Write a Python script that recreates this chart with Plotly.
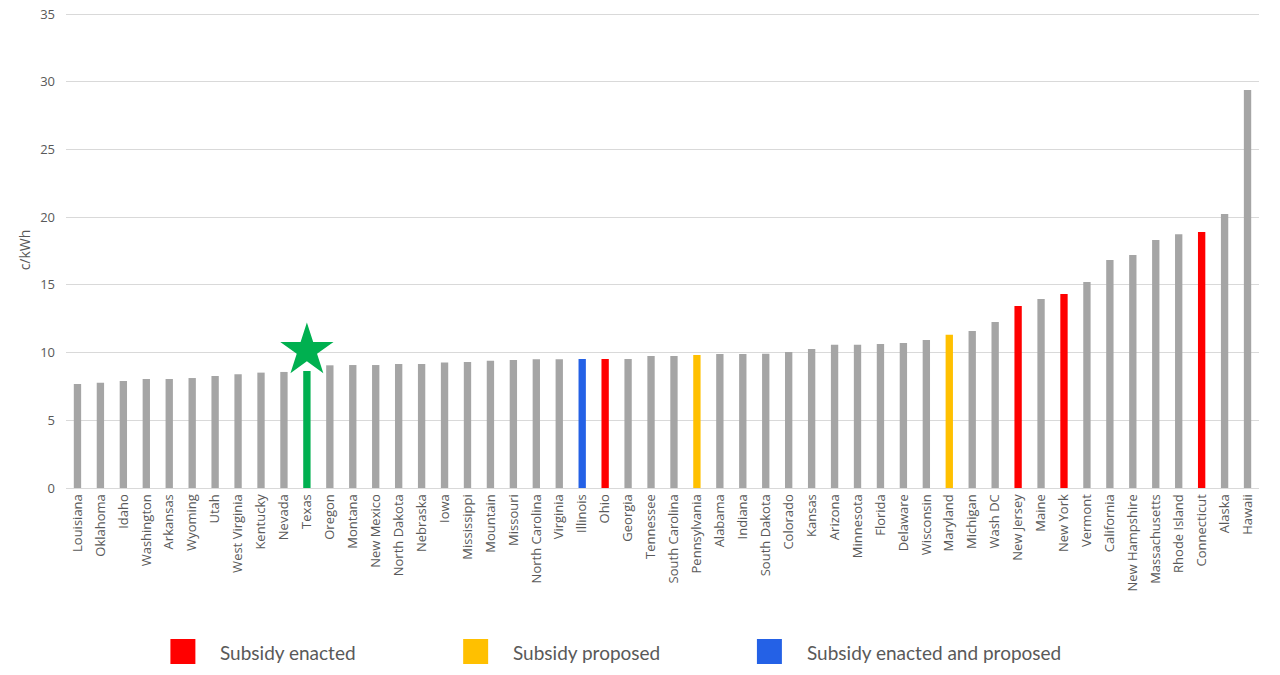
import plotly.graph_objects as go

states = ['Louisiana', 'Oklahoma', 'Idaho', 'Washington', 'Arkansas', 'Wyoming', 'Utah',
          'West Virginia', 'Kentucky', 'Nevada', 'Texas', 'Oregon', 'Montana', 'New Mexico',
          'North Dakota', 'Nebraska', 'Iowa', 'Mississippi', 'Mountain', 'Missouri',
          'North Carolina', 'Virginia', 'Illinois', 'Ohio', 'Georgia', 'Tennessee',
          'South Carolina', 'Pennsylvania', 'Alabama', 'Indiana', 'South Dakota', 'Colorado',
          'Kansas', 'Arizona', 'Minnesota', 'Florida', 'Delaware', 'Wisconsin', 'Maryland',
          'Michigan', 'Wash DC', 'New Jersey', 'Maine', 'New York', 'Vermont', 'California',
          'New Hampshire', 'Massachusetts', 'Rhode Island', 'Connecticut', 'Alaska', 'Hawaii']
price_ckwh = [7.68, 7.78, 7.90, 8.05, 8.05, 8.12, 8.27, 8.40, 8.52, 8.57, 8.64, 9.06, 9.08, 9.08,
              9.15, 9.15, 9.27, 9.30, 9.40, 9.45, 9.50, 9.50, 9.53, 9.53, 9.53, 9.75, 9.75, 9.82,
              9.90, 9.90, 9.92, 10.04, 10.27, 10.58, 10.58, 10.63, 10.70, 10.93, 11.32, 11.59,
              12.26, 13.44, 13.96, 14.33, 15.21, 16.84, 17.20, 18.31, 18.73, 18.90, 20.23, 29.39]

subsidy_enacted = ['Ohio', 'New Jersey', 'New York', 'Connecticut']
subsidy_proposed = ['Pennsylvania', 'Maryland']
subsidy_both = ['Illinois']
highlight = 'Texas'
star_level = 10.15

GREY = '#A5A5A5'
RED = '#FF0000'
YELLOW = '#FFC000'
BLUE = '#2461E6'
GREEN = '#00B050'

colors = []
for s in states:
    if s in subsidy_enacted:
        colors.append(RED)
    elif s in subsidy_proposed:
        colors.append(YELLOW)
    elif s in subsidy_both:
        colors.append(BLUE)
    elif s == highlight:
        colors.append(GREEN)
    else:
        colors.append(GREY)

fig = go.Figure()
fig.add_trace(go.Bar(x=states, y=price_ckwh, marker_color=colors, marker_line_width=0,
                     showlegend=False))
fig.add_trace(go.Scatter(x=[highlight], y=[star_level], mode='markers', showlegend=False,
                         marker=dict(symbol='star', size=40, color=GREEN, line_width=0)))

# body margin is removed below, so page pixels == figure pixels
# plot area x 65.5..1259.5, y 12..488 (top a hair above 35 so its gridline is drawn)
W, H = 1280, 675
L, R, T, B = 65.5, 20.5, 12, 187

def px_x(p):
    return (p - L) / (W - L - R)

def px_y(p):
    return (H - B - p) / (H - T - B)

legend_items = [('Subsidy enacted', RED, 170), ('Subsidy proposed', YELLOW, 463),
                ('Subsidy enacted and proposed', BLUE, 757)]
for label, col, left in legend_items:
    fig.add_shape(type='rect', xref='paper', yref='paper',
                  x0=px_x(left), x1=px_x(left + 25), y0=px_y(664), y1=px_y(639),
                  fillcolor=col, line_width=0)
    fig.add_annotation(text=label, xref='paper', yref='paper', x=px_x(left + 48), y=px_y(652),
                       xanchor='left', yanchor='middle', showarrow=False,
                       font=dict(size=19, color='#595959', family='Lato'))

fig.update_layout(
    width=W, height=H,
    margin=dict(l=L, r=R, t=T, b=B, pad=0),
    plot_bgcolor='white', paper_bgcolor='white',
    bargap=0.68,
    font=dict(family='Open Sans', color='#595959', size=12),
    xaxis=dict(tickangle=-90, tickfont=dict(size=13), showgrid=False, automargin=False,
               showline=True, linecolor='#D9D9D9', linewidth=1, ticks=''),
    yaxis=dict(range=[0, 35.15], tickvals=[0, 5, 10, 15, 20, 25, 30, 35],
               gridcolor='#D9D9D9', gridwidth=1, automargin=False, ticklabeloverflow='allow',
               zeroline=False, tickfont=dict(size=13), ticklabelstandoff=10,
               title=dict(text='c/kWh', font=dict(size=14), standoff=6)),
)

fig.write_html('out.html', config={'displayModeBar': False},
               post_script="document.body.style.margin='0';")
